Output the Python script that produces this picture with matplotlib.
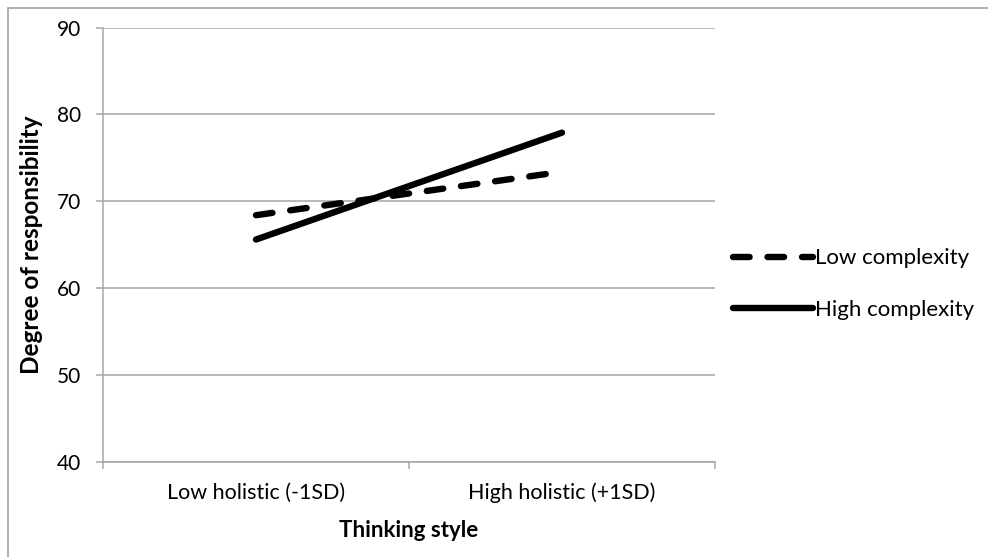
import matplotlib
matplotlib.use('Agg')
import matplotlib.pyplot as plt
from matplotlib.patches import Rectangle

plt.rcParams['font.family'] = ['Lato', 'DejaVu Sans']

categories = ['Low holistic (-1SD)', 'High holistic (+1SD)']
low_complexity = [68.4, 73.4]
high_complexity = [65.6, 77.9]
y_ticks = [40, 50, 60, 70, 80, 90]

W, H = 988, 557
fig = plt.figure(figsize=(W / 100, H / 100), dpi=100)
ax = fig.add_axes([103 / W, 1 - 462 / H, (715 - 103) / W, (462 - 27.5) / H])

grid_c = '#a6a6a6'
x = list(range(len(categories)))
lw = 4.6
l1, = ax.plot(x, low_complexity, color='black', lw=lw, dashes=(2.6, 2.8),
              dash_capstyle='round', solid_capstyle='round', label='Low complexity')
l2, = ax.plot(x, high_complexity, color='black', lw=lw, solid_capstyle='round',
              label='High complexity')

ax.set_xlim(-0.5, 1.5)
ax.set_ylim(40, 90)
ax.set_yticks(y_ticks)
ax.yaxis.grid(True, color=grid_c, lw=1.1)
ax.set_axisbelow(True)
ax.set_xticks(x)
ax.set_xticklabels(categories, fontsize=15.5)
ax.set_xticks([-0.5, 0.5, 1.5], minor=True)
ax.tick_params(axis='x', which='major', length=0, pad=15)
ax.tick_params(axis='x', which='minor', length=5, color=grid_c, width=1.1, direction='out')
ax.tick_params(axis='y', length=5, color=grid_c, width=1.1, labelsize=15, pad=11)

for s in ['top', 'right']:
    ax.spines[s].set_visible(False)
for s in ['left', 'bottom']:
    ax.spines[s].set_color(grid_c)
    ax.spines[s].set_linewidth(1.1)

ax.set_xlabel('Thinking style', fontsize=16, fontweight='bold', labelpad=12)
ax.set_ylabel('Degree of responsibility', fontsize=17.5, fontweight='bold', labelpad=10)

fig.legend(handles=[l1, l2], loc='center left', bbox_to_anchor=(733 / W, 1 - 284 / H),
           frameon=False, fontsize=16, handlelength=3.6, handletextpad=0.1,
           labelspacing=1.4, borderaxespad=0, borderpad=0)

fig.patches.append(Rectangle((8 / W, -0.1), 1.2, 1.1 - 8 / H, transform=fig.transFigure,
                             fill=False, edgecolor='#aaaaaa', lw=1.3, figure=fig))

fig.savefig('out.png', dpi=100)
